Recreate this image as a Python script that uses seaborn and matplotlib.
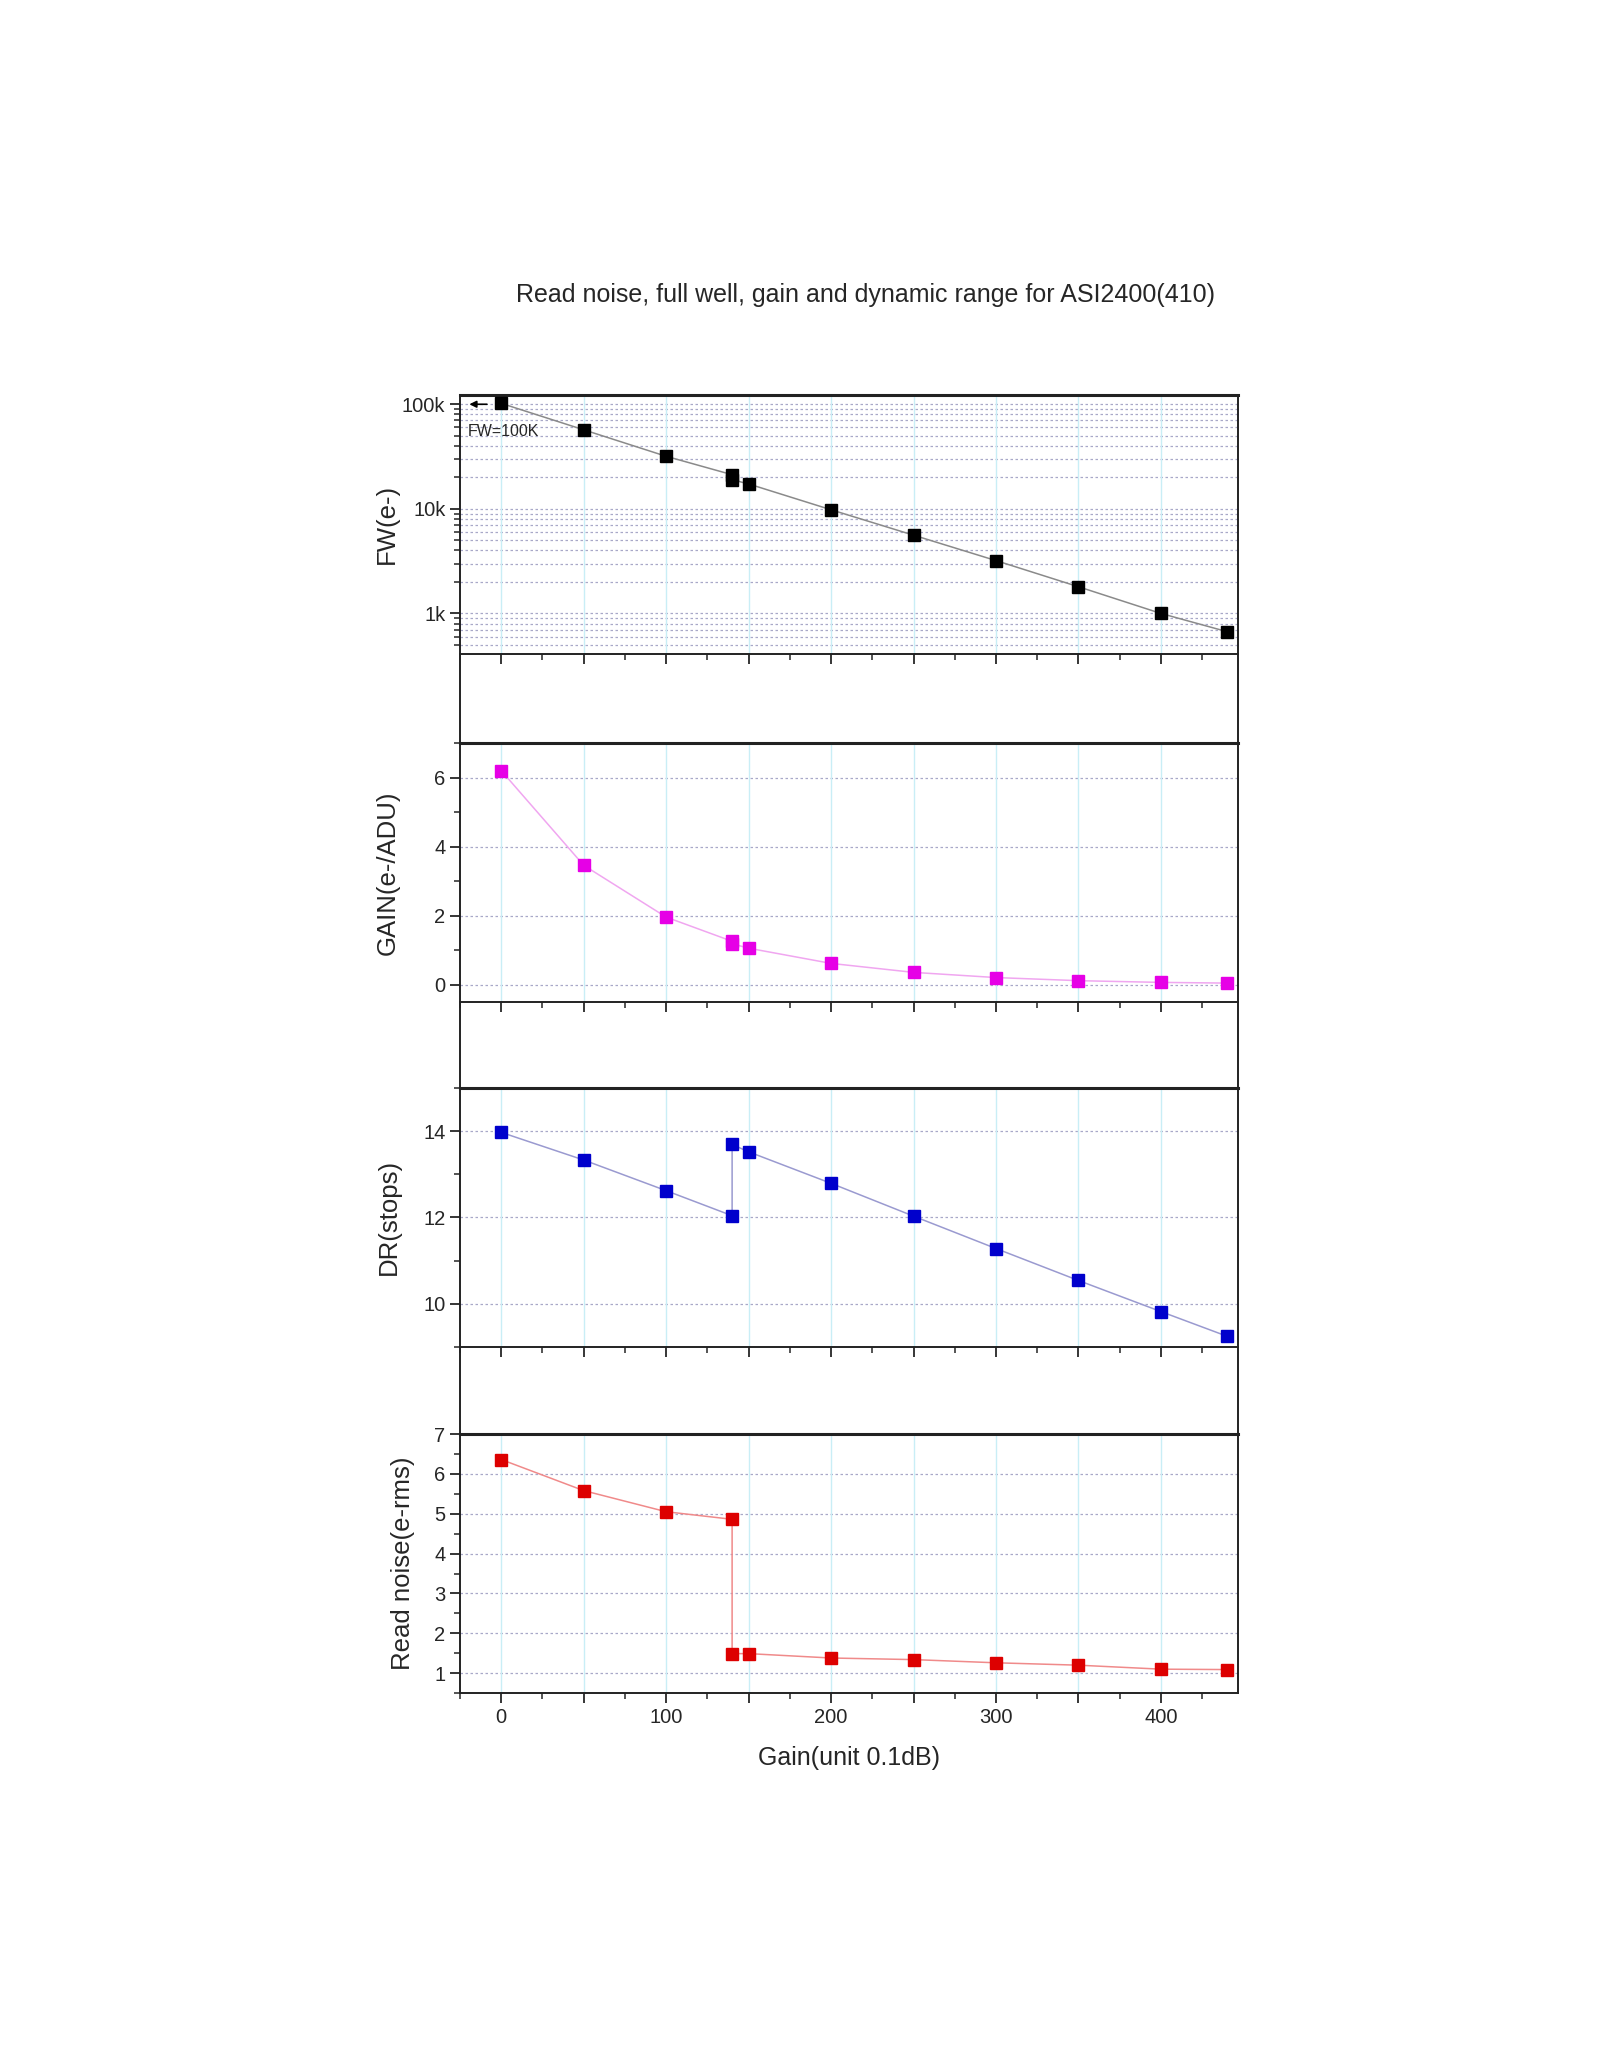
import numpy as np
import pandas as pd
import matplotlib
matplotlib.use("Agg")
import matplotlib.pyplot as plt
import matplotlib.ticker as mticker
from matplotlib.lines import Line2D
import seaborn as sns

# datos (ganancia en unidades de 0.1dB)
gain_setting = [0, 50, 100, 140, 140, 150, 200, 250, 300, 350, 400, 440]
full_well = [102000, 57000, 31800, 21200, 19000, 17300, 9800, 5600, 3200, 1800, 1000, 670]
gain_e_adu = [6.2, 3.46, 1.96, 1.26, 1.19, 1.06, 0.62, 0.36, 0.21, 0.12, 0.07, 0.05]
dr_stops = [13.97, 13.33, 12.62, 12.04, 13.69, 13.52, 12.79, 12.03, 11.28, 10.54, 9.82, 9.25]
read_noise = [6.36, 5.58, 5.05, 4.86, 1.49, 1.49, 1.38, 1.34, 1.26, 1.20, 1.10, 1.09]

titulo = "Read noise, full well, gain and dynamic range for ASI2400(410)"
etiquetas_y = ["FW(e-)", "GAIN(e-/ADU)", "DR(stops)", "Read noise(e-rms)"]
etiqueta_x = "Gain(unit 0.1dB)"

df = pd.DataFrame({"gain": gain_setting, "fw": full_well, "g": gain_e_adu,
                   "dr": dr_stops, "rn": read_noise})

sns.set_style("ticks")
plt.rcParams["font.family"] = ["Liberation Sans", "DejaVu Sans"]

fig = plt.figure(figsize=(16, 20.48), dpi=100)

left, width, height = 0.2875, 0.4865, 0.1265
bottoms = [0.6807, 0.5107, 0.3423, 0.1733]
series = ["fw", "g", "dr", "rn"]
marker_colors = ["#000000", "#E600E6", "#0000CC", "#DD0000"]
line_colors = ["#8A8A8A", "#F0A6F0", "#9A9AD0", "#F08A8A"]
marker_sizes = [9, 8, 8, 8.5]
ylims = [(410, 123000), (-0.5, 7), (9, 15), (0.5, 7)]
label_x = [-0.078, -0.078, -0.076, -0.058]

axes = []
for i, col in enumerate(series):
    ax = fig.add_axes([left, bottoms[i], width, height])
    axes.append(ax)
    sns.lineplot(data=df, x="gain", y=col, ax=ax, estimator=None, sort=False,
                 color=line_colors[i], linewidth=1.1, zorder=3)
    ax.plot(df["gain"], df[col], linestyle="none", marker="s",
            markersize=marker_sizes[i], color=marker_colors[i], zorder=4)
    ax.set_xlim(-25, 447)
    if col == "fw":
        ax.set_yscale("log")
    ax.set_ylim(*ylims[i])

    # grilla vertical cian cada 50
    for gx in range(0, 401, 50):
        ax.axvline(gx, color="#C9EEF6", linewidth=1.0, zorder=1)

    ax.xaxis.set_major_locator(mticker.MultipleLocator(50))
    ax.xaxis.set_minor_locator(mticker.MultipleLocator(25))
    if i == 3:
        ax.xaxis.set_major_formatter(mticker.FuncFormatter(
            lambda v, p: f"{int(v)}" if v % 100 == 0 else ""))
        ax.set_xlabel(etiqueta_x, fontsize=18, labelpad=14)
    else:
        ax.set_xticklabels([])
        ax.set_xlabel("")

    ax.tick_params(axis="both", which="major", direction="out", length=7,
                   width=1.3, labelsize=14.5, top=False, right=False)
    ax.tick_params(axis="both", which="minor", direction="out", length=4,
                   width=1.1, top=False, right=False)

    if col == "fw":
        ax.yaxis.set_major_locator(mticker.FixedLocator([1e3, 1e4, 1e5]))
        ax.yaxis.set_major_formatter(mticker.FixedFormatter(["1k", "10k", "100k"]))
        ax.yaxis.set_minor_locator(mticker.LogLocator(base=10, subs=np.arange(2, 10)))
        ax.yaxis.set_minor_formatter(mticker.NullFormatter())
        ax.grid(True, axis="y", which="both", color="#A8A8C8", linestyle=(0, (2, 2)),
                linewidth=0.9, zorder=1)
        ax.annotate("", xy=(-21, 100000), xytext=(-7, 100000),
                    arrowprops=dict(arrowstyle="-|>", color="black", lw=1.2,
                                    mutation_scale=10))
        ax.text(-20, 55000, "FW=100K", fontsize=11.5, va="center", ha="left")
    else:
        ax.yaxis.set_minor_locator(mticker.AutoMinorLocator(2))
        if col == "g":
            ax.yaxis.set_major_locator(mticker.FixedLocator([0, 2, 4, 6]))
        elif col == "dr":
            ax.yaxis.set_major_locator(mticker.FixedLocator([10, 12, 14]))
        else:
            ax.yaxis.set_major_locator(mticker.FixedLocator([1, 2, 3, 4, 5, 6, 7]))
        ax.grid(True, axis="y", which="major", color="#A8A8C8", linestyle=(0, (2, 2)),
                linewidth=0.9, zorder=1)

    ax.set_ylabel(etiquetas_y[i], fontsize=18.5)
    ax.yaxis.set_label_coords(label_x[i], 0.5)
    for s in ax.spines.values():
        s.set_linewidth(1.4)
        s.set_color("#222222")
    ax.spines["top"].set_linewidth(2.2)

# lineas laterales en los huecos entre paneles
for i in range(3):
    y0 = bottoms[i]
    y1 = bottoms[i + 1] + height
    for xx in (left, left + width):
        fig.add_artist(Line2D([xx, xx], [y1, y0], transform=fig.transFigure,
                              color="#222222", linewidth=1.4))

fig.text(0.541, 0.856, titulo, ha="center", va="center", fontsize=18)

fig.savefig("out.png", dpi=100)
